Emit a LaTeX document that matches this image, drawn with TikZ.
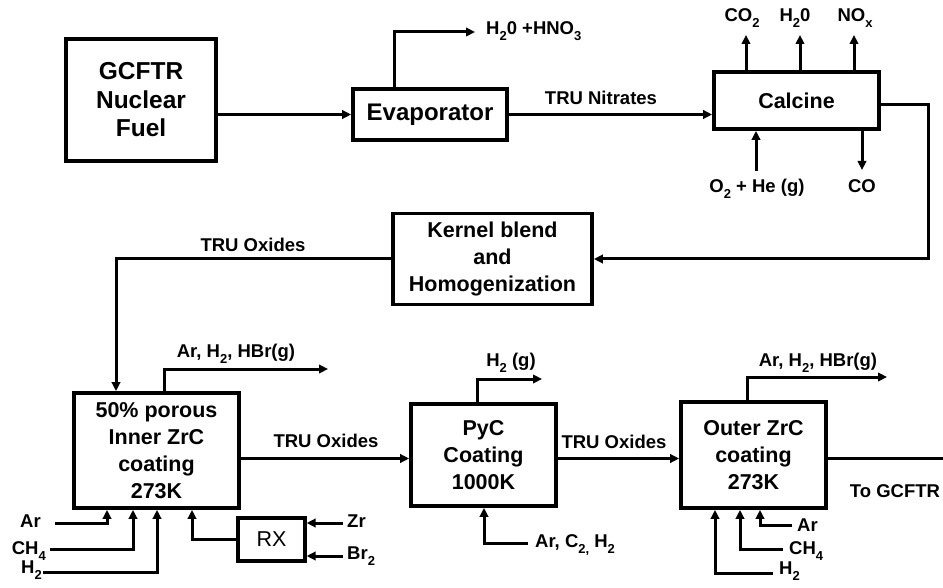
\documentclass[tikz,border=0pt]{standalone}
\usepackage{fontspec}
\setmainfont{Liberation Sans}
\usetikzlibrary{arrows.meta}
\newcommand{\sbs}[1]{\raisebox{-0.32em}{\fontsize{13}{13}\selectfont #1}}
\begin{document}
\begin{tikzpicture}[x=1pt,y=-1pt,
  box/.style={draw, line width=3.8pt, rectangle, align=center, inner sep=0pt,
    font=\fontsize{21.5}{26.8}\selectfont\bfseries},
  lbl/.style={font=\fontsize{18.5}{20}\selectfont\bfseries, inner sep=0pt},
  arr/.style={line width=3pt, -{Triangle[length=9pt,width=8.5pt]}},
  ln/.style={line width=3pt}]
\useasboundingbox (0,0) rectangle (943,588);

% boxes
\node[box, minimum width=150pt, minimum height=122pt,
  font=\fontsize{24.5}{28.5}\selectfont\bfseries] (gcftr) at (141,100) {GCFTR\\Nuclear\\Fuel};
\node[box, minimum width=154pt, minimum height=51pt,
  font=\fontsize{24}{28}\selectfont\bfseries] (evap) at (430,114.5) {Evaporator};
\node[box, minimum width=165pt, minimum height=57pt] (calc) at (796.5,100.5) {Calcine};
\node[box, minimum width=199pt, minimum height=91pt] (kern) at (492.5,259) {Kernel blend\\and\\Homogenization};
\node[box, minimum width=165pt, minimum height=115pt] (inner) at (156.5,450.5) {50\% porous\\Inner ZrC\\coating\\273K};
\node[box, line width=3.3pt, minimum width=67pt, minimum height=43pt,
  font=\fontsize{21.5}{26}\selectfont] (rx) at (271.5,539.5) {RX};
\node[box, minimum width=145pt, minimum height=102pt] (pyc) at (483.5,455) {PyC\\Coating\\1000K};
\node[box, minimum width=145pt, minimum height=106pt] (outer) at (753.5,455) {Outer ZrC\\coating\\273K};

% labels
\node[lbl, anchor=mid west] (l_evap) at (486,32) {H\sbs{2}0 +HNO\sbs{3}};
\node[lbl, anchor=mid] (l_nitr) at (601,101.5) {TRU Nitrates};
\node[lbl, anchor=mid] (l_co2) at (742,18.5) {CO\sbs{2}};
\node[lbl, anchor=mid] (l_h2o) at (795,18.5) {H\sbs{2}0};
\node[lbl, anchor=mid] (l_nox) at (855,18.5) {NO\sbs{x}};
\node[lbl, anchor=mid] (l_o2) at (757,190) {O\sbs{2} + He (g)};
\node[lbl, anchor=mid] (l_co) at (862,190) {CO};
\node[lbl, anchor=mid] (l_ox1) at (253,249) {TRU Oxides};
\node[lbl, anchor=mid] (l_inout) at (236,355) {Ar, H\sbs{2}, HBr(g)};
\node[lbl, anchor=mid] (l_ox2) at (326,445) {TRU Oxides};
\node[lbl, anchor=mid east] (l_iar) at (41,525) {Ar};
\node[lbl, anchor=mid east] (l_ich) at (46,552) {CH\sbs{4}};
\node[lbl, anchor=mid east] (l_ih) at (42,571) {H\sbs{2}};
\node[lbl, anchor=mid west] (l_zr) at (347,525) {Zr};
\node[lbl, anchor=mid west] (l_br) at (347,557) {Br\sbs{2}};
\node[lbl, anchor=mid] (l_pycout) at (511,364) {H\sbs{2} (g)};
\node[lbl, anchor=mid west] (l_pycin) at (535,545) {Ar, C\sbs{2,} H\sbs{2}};
\node[lbl, anchor=mid] (l_ox3) at (614,446) {TRU Oxides};
\node[lbl, anchor=mid] (l_outout) at (818,364) {Ar, H\sbs{2}, HBr(g)};
\node[lbl, anchor=mid west] (l_oar) at (797,529) {Ar};
\node[lbl, anchor=mid west] (l_och) at (789,552) {CH\sbs{4}};
\node[lbl, anchor=mid west] (l_oh) at (779,572) {H\sbs{2}};
\node[lbl, anchor=mid] (l_to) at (895,495) {To GCFTR};

% coordinates for free ends
\coordinate (evapout) at (475,32);
\coordinate (co2out) at (746,35);
\coordinate (h2oout) at (800,35);
\coordinate (noxout) at (854,35);
\coordinate (o2in) at (756,171);
\coordinate (coout) at (862,170);
\coordinate (rc) at (928,0);
\coordinate (innerout) at (328,369);
\coordinate (pycin) at ([yshift=-3.5pt]pyc.west);
\coordinate (outin) at ([yshift=-3.5pt]outer.west);
\coordinate (endout) at (943,458.5);
\coordinate (pycout) at (542,379);
\coordinate (pycfeed) at (528,543);
\coordinate (outerout) at (887,377);
\coordinate (oar) at (792,525);
\coordinate (och) at (783,549);
\coordinate (oh) at (773,573);
\coordinate (iar) at (55,523);
\coordinate (ich) at (50,549);
\coordinate (ih) at (43,572);
\coordinate (zrin) at (343,523);
\coordinate (brin) at (343,556);

% connectors
\draw[arr] (gcftr.east |- evap.west) -- (evap.west);
\draw[arr] ([xshift=-36pt]evap.north) |- (evapout);
\draw[arr] (evap.east) -- (evap.east -| calc.west);
\draw[arr] (co2out |- calc.north) -- (co2out);
\draw[arr] (h2oout |- calc.north) -- (h2oout);
\draw[arr] (noxout |- calc.north) -- (noxout);
\draw[arr] (o2in) -- (o2in |- calc.south);
\draw[arr] (coout |- calc.south) -- (coout);
\draw[arr] ([yshift=-4.5pt]calc.east) -| (rc |- kern.east) -- (kern.east);
\draw[arr] (kern.west) -| ([xshift=-40.5pt]inner.north);
\draw[arr] ([xshift=7.5pt]inner.north) |- (innerout);
\draw[arr] (pycin -| inner.east) -- (pycin);
\draw[arr] (outin -| pyc.east) -- (outin);
\draw[ln] (endout -| outer.east) -- (endout);
\draw[arr] ([xshift=-6.5pt]pyc.north) |- (pycout);
\draw[arr] (pycfeed) -| ([xshift=0.5pt]pyc.south);
\draw[arr] ([xshift=-6.5pt]outer.north) |- (outerout);
\draw[arr] (oar) -| ([xshift=6.5pt]outer.south);
\draw[arr] (och) -| ([xshift=-13.5pt]outer.south);
\draw[arr] (oh) -| ([xshift=-38.5pt]outer.south);
\draw[arr] (iar) -| ([xshift=-49.5pt]inner.south);
\draw[arr] (ich) -| ([xshift=-23.5pt]inner.south);
\draw[arr] (ih) -| ([xshift=0.5pt]inner.south);
\draw[arr] (rx.west) -| ([xshift=35.5pt]inner.south);
\draw[arr] (zrin) -- (zrin -| rx.east);
\draw[arr] (brin) -- (brin -| rx.east);
\end{tikzpicture}
\end{document}
